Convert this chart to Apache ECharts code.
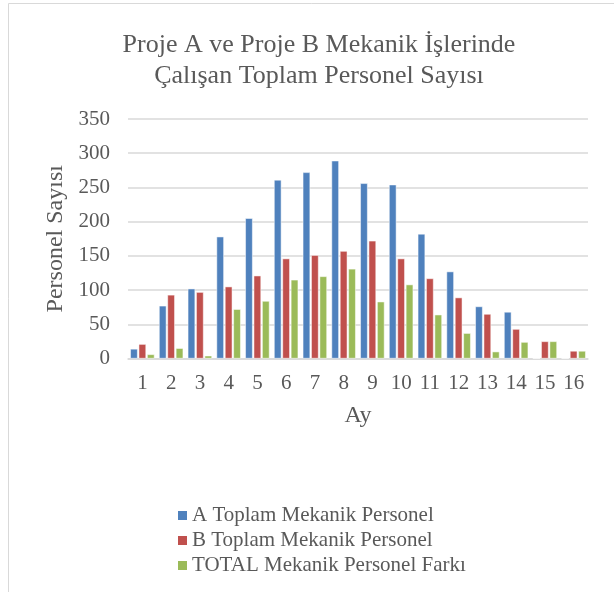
<!DOCTYPE html>
<html>
<head>
<meta charset="utf-8">
<script src="https://cdn.jsdelivr.net/npm/echarts@6/dist/echarts.min.js"></script>
<style>
  html, body { margin: 0; padding: 0; background: #fff; }
  #chart { width: 614px; height: 592px; }
</style>
</head>
<body>
<div id="chart"></div>
<script>
// Months of the project schedule
const months = ['1','2','3','4','5','6','7','8','9','10','11','12','13','14','15','16'];
// Mechanical staff per month for each project
const projectA = [14, 77, 102, 178, 205, 261, 272, 289, 256, 254, 182, 127, 76, 68, 0, 0];
const projectB = [21, 93, 97, 105, 121, 146, 151, 157, 172, 146, 117, 89, 65, 43, 25, 11];
const totalDiff = [6, 15, 4, 72, 84, 115, 120, 131, 83, 108, 64, 37, 10, 24, 25, 11];
const seriesNames = ['A Toplam Mekanik Personel', 'B Toplam Mekanik Personel', 'TOTAL Mekanik Personel Farkı'];
const seriesColors = ['#4F81BD', '#C0504D', '#9BBB59'];

const font = '"Liberation Serif", "Times New Roman", serif';
const textColor = '#595959';

const chart = echarts.init(document.getElementById('chart'));
const barSeries = [projectA, projectB, totalDiff].map((vals, i) => ({
  name: seriesNames[i],
  type: 'bar',
  data: vals,
  barGap: '15%',
  barCategoryGap: '16%',
  itemStyle: { color: seriesColors[i], borderColor: '#ffffff', borderWidth: 0.5 }
}));

chart.setOption({
  animation: false,
  backgroundColor: '#fff',
  graphic: [{
    type: 'rect',
    shape: { x: 8.5, y: 3.5, width: 700, height: 700 },
    style: { fill: 'none', stroke: '#d9d9d9', lineWidth: 1 },
    silent: true
  }],
  title: {
    text: 'Proje A ve Proje B Mekanik İşlerinde\nÇalışan Toplam Personel Sayısı',
    left: 314,
    top: 25,
    textAlign: 'center',
    textStyle: { fontFamily: font, fontSize: 26, fontWeight: 'normal', color: textColor, lineHeight: 31 }
  },
  legend: {
    orient: 'vertical',
    left: 171,
    top: 500,
    itemWidth: 11,
    itemHeight: 11,
    itemGap: 4,
    icon: 'rect',
    textStyle: { fontFamily: font, fontSize: 21, lineHeight: 21, color: textColor, padding: [0, 0, 0, -1] },
    data: seriesNames
  },
  grid: { left: 128, right: 26, top: 119, bottom: 592 - 358.5, containLabel: false },
  xAxis: {
    type: 'category',
    data: months,
    name: 'Ay',
    nameLocation: 'middle',
    nameGap: 45,
    nameTextStyle: { fontFamily: font, fontSize: 24, color: textColor },
    axisLine: { lineStyle: { color: '#d9d9d9', width: 1.5 } },
    axisTick: { show: false },
    axisLabel: { fontFamily: font, fontSize: 21, color: textColor, margin: 14 }
  },
  yAxis: {
    type: 'value',
    min: 0,
    max: 350,
    interval: 50,
    name: 'Personel Sayısı',
    nameLocation: 'middle',
    nameGap: 58,
    nameTextStyle: { fontFamily: font, fontSize: 24, color: textColor },
    axisLine: { show: false },
    axisTick: { show: false },
    axisLabel: { fontFamily: font, fontSize: 21, color: textColor, margin: 18 },
    splitLine: { lineStyle: { color: '#d9d9d9', width: 1.5 } }
  },
  series: barSeries
});
</script>
</body>
</html>
